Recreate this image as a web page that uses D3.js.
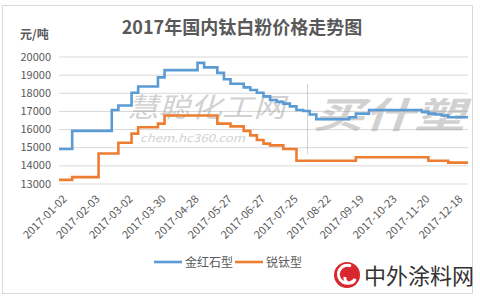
<!DOCTYPE html>
<html>
<head>
<meta charset="utf-8">
<script src="https://cdn.jsdelivr.net/npm/d3@7"></script>
<style>
  body { margin: 0; background: #fff; }
  #chart { width: 480px; height: 300px; }
  .chart text { font-family: "Noto Sans CJK SC", "Noto Sans", sans-serif; fill: #595959; }
  .axis path { display: none; }
  .grid line { stroke: #d9d9d9; stroke-width: 1; }
  .grid path { display: none; }
  .line { fill: none; stroke-width: 2.6; stroke-linejoin: miter; }
</style>
</head>
<body>
<div id="chart"></div>
<script>
// one value every 4 trading days, index 0..248
var sampleStep = 4;

var tickLabels = [
  '2017-01-02', '2017-02-03', '2017-03-02', '2017-03-30', '2017-04-28',
  '2017-05-27', '2017-06-27', '2017-07-25', '2017-08-22', '2017-09-19',
  '2017-10-23', '2017-11-20', '2017-12-18'
];
var tickEvery = 20;

var rutile = [
  14900, 14900, 15900, 15900, 15900, 15900, 15900, 15900, 17050, 17300,
  17300, 18000, 18350, 18350, 18350, 18850, 19250, 19250, 19250, 19250,
  19250, 19650, 19400, 19400, 19100, 18750, 18500, 18500, 18300, 18150,
  18000, 17800, 17600, 17500, 17400, 17250, 17050, 17000, 16800, 16550,
  16550, 16550, 16550, 16550, 16650, 16850, 16850, 17050, 17050, 17050,
  17050, 17050, 17050, 17050, 17050, 16950, 16850, 16800, 16750, 16650,
  16650, 16650, 16650
];

var anatase = [
  13200, 13200, 13350, 13350, 13350, 13350, 14650, 14650, 14650, 15250,
  15250, 15750, 16100, 16100, 16100, 16300, 16750, 16750, 16750, 16750,
  16750, 16750, 16750, 16750, 16300, 16300, 16150, 16150, 15900, 15650,
  15400, 15200, 15100, 15100, 14900, 14900, 14250, 14250, 14250, 14250,
  14250, 14250, 14250, 14250, 14250, 14450, 14450, 14450, 14450, 14450,
  14450, 14450, 14450, 14450, 14450, 14450, 14250, 14250, 14250, 14150,
  14150, 14150, 14150
];

var seriesNames = ['金红石型', '锐钛型'];
var seriesColors = ['#5b9bd5', '#ed7d31'];
var yTicks = [13000, 14000, 15000, 16000, 17000, 18000, 19000, 20000];

var svg = d3.select('#chart').append('svg')
  .attr('class', 'chart')
  .attr('width', 480)
  .attr('height', 300);

// outer frame
svg.append('rect')
  .attr('x', 2.5).attr('y', 5.5)
  .attr('width', 470).attr('height', 288)
  .attr('fill', '#fff')
  .attr('stroke', '#d9d9d9');

var plot = { left: 59, right: 468, top: 56.5, bottom: 183.5 };

var lastIndex = (rutile.length - 1) * sampleStep;

var x = d3.scaleLinear()
  .domain([0, lastIndex])
  .range([plot.left, plot.right]);

var y = d3.scaleLinear()
  .domain([13000, 20000])
  .range([plot.bottom, plot.top]);

// grid
svg.append('g')
  .attr('class', 'grid')
  .attr('transform', 'translate(' + plot.left + ',0)')
  .call(d3.axisLeft(y).tickValues(yTicks)
    .tickSize(-(plot.right - plot.left)).tickFormat(''));

// y labels
svg.append('g')
  .attr('class', 'axis')
  .attr('transform', 'translate(51,0)')
  .call(d3.axisLeft(y).tickValues(yTicks).tickSize(0).tickPadding(0)
    .tickFormat(d3.format('d')))
  .selectAll('text')
  .style('font-size', '11px');

// x labels
var xAxis = d3.axisBottom(x)
  .tickValues(d3.range(0, tickLabels.length).map(function(i) { return i * tickEvery; }))
  .tickSize(0)
  .tickFormat(function(d) { return tickLabels[d / tickEvery]; });

svg.append('g')
  .attr('class', 'axis')
  .attr('transform', 'translate(0,' + plot.bottom + ')')
  .call(xAxis)
  .selectAll('text')
  .style('font-size', '11px')
  .style('text-anchor', 'end')
  .attr('dy', 0)
  .attr('transform', 'translate(6,14) rotate(-45)');

// watermarks (image overlay in the original)
var wm = svg.append('g').attr('opacity', 0.45);
wm.append('text')
  .attr('x', 127).attr('y', 117)
  .attr('textLength', 158).attr('lengthAdjust', 'spacingAndGlyphs')
  .style('font-size', '27px').style('font-style', 'italic')
  .style('fill', '#9a9a9a')
  .text('慧聪化工网');
wm.append('text')
  .attr('x', 140).attr('y', 142)
  .attr('textLength', 105).attr('lengthAdjust', 'spacingAndGlyphs')
  .style('font-size', '11px').style('font-style', 'italic')
  .style('fill', '#9a9a9a')
  .text('chem.hc360.com');
wm.append('line')
  .attr('x1', 307.5).attr('x2', 307.5)
  .attr('y1', 84).attr('y2', 154)
  .attr('stroke', '#9a9a9a').attr('stroke-width', 1);
wm.append('text')
  .attr('x', 313).attr('y', 128)
  .attr('textLength', 152).attr('lengthAdjust', 'spacingAndGlyphs')
  .style('font-size', '36px').style('font-style', 'italic').style('font-weight', 'bold')
  .style('fill', '#9a9a9a')
  .text('买什塑');

// lines
var line = d3.line()
  .curve(d3.curveStepAfter)
  .x(function(d, i) { return x(i * sampleStep); })
  .y(function(d) { return y(d); });

[rutile, anatase].forEach(function(data, i) {
  svg.append('path')
    .attr('class', 'line')
    .attr('stroke', seriesColors[i])
    .attr('d', line(data));
});

// title
svg.append('text')
  .attr('x', 242).attr('y', 34)
  .attr('text-anchor', 'middle')
  .style('font-size', '18px').style('font-weight', 'bold')
  .text('2017年国内钛白粉价格走势图');

svg.append('text')
  .attr('x', 20).attr('y', 39)
  .style('font-size', '12px').style('font-weight', 'bold')
  .text('元/吨');

// legend
var legendX = [154, 235];
seriesNames.forEach(function(name, i) {
  var g = svg.append('g').attr('transform', 'translate(' + legendX[i] + ',262)');
  g.append('line')
    .attr('x1', 0).attr('x2', 28)
    .attr('stroke', seriesColors[i]).attr('stroke-width', 2.6);
  g.append('text')
    .attr('x', 31).attr('y', 4.5)
    .style('font-size', '12px')
    .text(name);
});

// site logo
var logo = svg.append('g').attr('transform', 'translate(347,275)');
logo.append('circle').attr('r', 13).attr('fill', '#d7282f');
logo.append('path')
  .attr('d', 'M4,-9 A9,9 0 1,0 8,4 A5,5 0 1,1 -2,2')
  .attr('fill', 'none').attr('stroke', '#fff').attr('stroke-width', 3);
svg.append('text')
  .attr('x', 364).attr('y', 284)
  .style('font-size', '22px')
  .style('fill', '#333')
  .text('中外涂料网');
</script>
</body>
</html>
